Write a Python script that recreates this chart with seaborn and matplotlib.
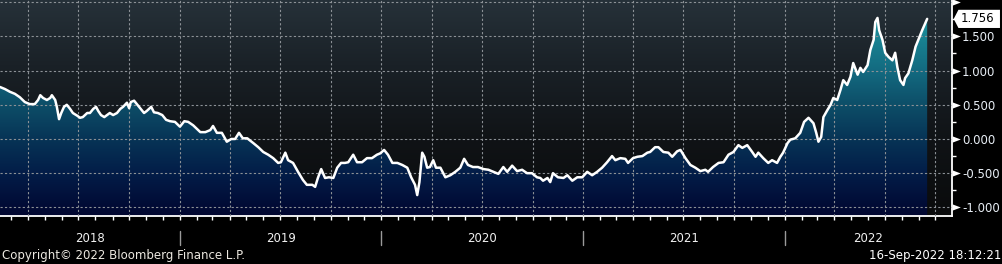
import numpy as np
import pandas as pd
import matplotlib
matplotlib.use("Agg")
import matplotlib.pyplot as plt
import matplotlib.dates as mdates
import matplotlib.ticker as mticker
from matplotlib.colors import LinearSegmentedColormap
from matplotlib.path import Path
from matplotlib.transforms import blended_transform_factory
import seaborn as sns

# ---------------- data ----------------
start_date = "2018-02-09"
day_offsets = [
    0, 9, 18, 27, 36, 45, 54, 63, 69, 73, 78, 85, 91, 94, 100, 103, 107, 111, 116, 121,
    127, 132, 140, 145, 150, 158, 163, 169, 174, 178, 183, 189, 194, 199, 205, 212, 218, 223, 230, 234,
    237, 243, 248, 254, 261, 266, 274, 279, 286, 294, 301, 308, 317, 326, 334, 341, 350, 363, 372, 381,
    386, 393, 402, 411, 419, 426, 433, 440, 448, 459, 468, 477, 486, 495, 504, 509, 517, 522, 531, 540,
    549, 556, 566, 571, 576, 582, 589, 596, 604, 611, 618, 625, 631, 640, 647, 656, 665, 674, 683, 689,
    696, 703, 711, 720, 729, 738, 745, 752, 756, 760, 765, 769, 774, 779, 785, 790, 798, 807, 816, 825,
    834, 841, 848, 857, 866, 876, 885, 894, 903, 912, 919, 928, 937, 946, 955, 964, 973, 979, 984, 992,
    997, 1002, 1011, 1021, 1028, 1037, 1046, 1055, 1064, 1073, 1082, 1091, 1100, 1109, 1115, 1124, 1133, 1138, 1147, 1155,
    1164, 1173, 1178, 1187, 1193, 1202, 1211, 1218, 1227, 1233, 1242, 1251, 1260, 1269, 1278, 1283, 1292, 1302, 1311, 1320,
    1329, 1338, 1345, 1354, 1363, 1369, 1374, 1383, 1392, 1399, 1408, 1414, 1419, 1427, 1432, 1441, 1450, 1457, 1465, 1474,
    1479, 1483, 1488, 1492, 1499, 1505, 1510, 1517, 1523, 1528, 1535, 1541, 1546, 1554, 1559, 1564, 1572, 1577, 1583, 1586,
    1590, 1593, 1599, 1604, 1610, 1617, 1622, 1626, 1631, 1637, 1640, 1646, 1653, 1659, 1664, 1671, 1677, 1680,
]
values = [
    0.76, 0.73, 0.69, 0.66, 0.61, 0.54, 0.51, 0.51, 0.57, 0.64, 0.60, 0.57, 0.60, 0.64, 0.57, 0.47, 0.29, 0.38, 0.47, 0.50,
    0.44, 0.38, 0.34, 0.31, 0.32, 0.38, 0.38, 0.44, 0.47, 0.41, 0.35, 0.32, 0.35, 0.38, 0.35, 0.38, 0.44, 0.47, 0.53, 0.45,
    0.54, 0.56, 0.51, 0.45, 0.38, 0.41, 0.47, 0.39, 0.38, 0.35, 0.28, 0.26, 0.25, 0.18, 0.26, 0.25, 0.20, 0.10, 0.10, 0.13,
    0.19, 0.09, 0.09, -0.04, 0.00, 0.00, 0.09, 0.01, 0.01, -0.06, -0.12, -0.19, -0.23, -0.28, -0.35, -0.34, -0.20, -0.31, -0.35, -0.48,
    -0.60, -0.67, -0.67, -0.70, -0.57, -0.44, -0.57, -0.56, -0.57, -0.42, -0.35, -0.35, -0.34, -0.23, -0.34, -0.34, -0.28, -0.28, -0.23, -0.21,
    -0.16, -0.23, -0.35, -0.35, -0.38, -0.42, -0.56, -0.67, -0.82, -0.63, -0.20, -0.26, -0.42, -0.41, -0.31, -0.42, -0.42, -0.56, -0.53, -0.48,
    -0.42, -0.29, -0.38, -0.41, -0.41, -0.44, -0.45, -0.48, -0.51, -0.41, -0.48, -0.39, -0.47, -0.45, -0.50, -0.50, -0.56, -0.57, -0.61, -0.57,
    -0.63, -0.50, -0.56, -0.57, -0.53, -0.61, -0.56, -0.56, -0.48, -0.53, -0.48, -0.42, -0.34, -0.25, -0.31, -0.28, -0.29, -0.35, -0.28, -0.26,
    -0.25, -0.20, -0.19, -0.12, -0.12, -0.19, -0.20, -0.26, -0.18, -0.16, -0.28, -0.38, -0.42, -0.47, -0.45, -0.48, -0.41, -0.35, -0.34, -0.23,
    -0.19, -0.09, -0.13, -0.09, -0.19, -0.26, -0.20, -0.28, -0.35, -0.31, -0.35, -0.26, -0.20, -0.06, -0.01, 0.01, 0.09, 0.25, 0.31, 0.23,
    0.09, -0.04, 0.03, 0.32, 0.42, 0.50, 0.60, 0.57, 0.72, 0.86, 0.79, 0.91, 1.11, 0.94, 1.04, 0.98, 1.08, 1.30, 1.45, 1.71,
    1.77, 1.59, 1.45, 1.26, 1.20, 1.15, 1.26, 1.05, 0.86, 0.79, 0.89, 0.96, 1.15, 1.35, 1.45, 1.59, 1.70, 1.756,
]
y_ticks = [-1.0, -0.5, 0.0, 0.5, 1.0, 1.5, 2.0]
y_tick_labels = ["-1.000", "-0.500", "0.000", "0.500", "1.000", "1.500", ""]
years = [2018, 2019, 2020, 2021, 2022]
last_label = "1.756"
copyright_text = "Copyright\u00a9 2022 Bloomberg Finance L.P."
stamp_text = "16-Sep-2022 18:12:21"

# ---------------- style ----------------
sns.set_theme(style="dark")
plt.rcParams["font.family"] = ["DejaVu Sans"]
FS = 8.5

W, H = 1003, 264
fig = plt.figure(figsize=(W / 100, H / 100), dpi=100, facecolor="black")
rect = [0, 48 / H, 952 / W, 216 / H]

# background gradient axes
bg = fig.add_axes(rect, zorder=0)
bg_cmap = LinearSegmentedColormap.from_list(
    "bg", [(0, "#0a0b0c"), (0.35, "#101316"), (0.7, "#1a2127"), (1.0, "#263139")])
bg.imshow(np.linspace(0, 1, 256).reshape(-1, 1), cmap=bg_cmap, aspect="auto",
          origin="lower", extent=[0, 1, 0, 1])
bg.set_xlim(0, 1)
bg.set_ylim(0, 1)
bg.axis("off")

ax = fig.add_axes(rect, zorder=1)
ax.set_facecolor("none")

df = pd.DataFrame({
    "date": pd.Timestamp(start_date) + pd.to_timedelta(day_offsets, unit="D"),
    "value": values,
})

ymin, ymax = -1.126, 2.032
x0 = pd.Timestamp(start_date)
x1 = pd.Timestamp("2022-10-31")

sns.lineplot(data=df, x="date", y="value", ax=ax, color="white", lw=1.8, zorder=4)

poly = ax.fill_between(df["date"], df["value"], ymin, color="none", lw=0)
fill_cmap = LinearSegmentedColormap.from_list("fill", [
    (0.0, "#010630"), (0.198, "#031d48"), (0.357, "#073456"), (0.515, "#0d4e68"),
    (0.673, "#136a80"), (0.832, "#198493"), (1.0, "#1f9aa0")])
im = ax.imshow(np.linspace(0, 1, 256).reshape(-1, 1), cmap=fill_cmap, aspect="auto",
               origin="lower",
               extent=[mdates.date2num(x0), mdates.date2num(x1), ymin, ymax], zorder=1)
im.set_clip_path(poly.get_paths()[0], transform=ax.transData)

ax.set_xlim(x0, x1)
ax.set_ylim(ymin, ymax)
ax.set_xlabel("")
ax.set_ylabel("")

for s in ["left", "top"]:
    ax.spines[s].set_visible(False)
for s in ["right", "bottom"]:
    ax.spines[s].set_visible(True)
    ax.spines[s].set_color("white")
    ax.spines[s].set_linewidth(1.3)

# x axis
ax.xaxis.set_major_locator(mdates.MonthLocator(bymonth=[1, 4, 7, 10]))
ax.xaxis.set_minor_locator(mdates.MonthLocator())
ax.xaxis.set_major_formatter(mticker.NullFormatter())
ax.xaxis.set_minor_formatter(mticker.NullFormatter())
ax.tick_params(axis="x", which="both", bottom=True, direction="out", length=3,
               width=1, color="white")

# y axis
ax.yaxis.tick_right()
ax.set_yticks(y_ticks)
ax.set_yticklabels(y_tick_labels)
ax.yaxis.set_minor_locator(mticker.MultipleLocator(0.25))
ax.tick_params(axis="y", which="major", right=True, left=False, length=6, width=0,
               pad=1.2, labelsize=FS, labelcolor="#e8eef5", color="white")
ax.tick_params(axis="y", which="minor", right=True, left=False, length=3, width=1,
               color="white")
tri = Path([(0, -0.38), (0, 0.38), (1, 0), (0, -0.38)],
           [Path.MOVETO, Path.LINETO, Path.LINETO, Path.CLOSEPOLY])
for t in ax.yaxis.get_major_ticks():
    t.tick2line.set_marker(tri)
    t.tick2line.set_markersize(12)
    t.tick2line.set_markerfacecolor("white")
    t.tick2line.set_markeredgecolor("white")

# grid above fill, below line
ax.set_axisbelow(False)
ax.grid(True, which="major", axis="both", color="#8c9196", ls=(0, (2, 2)), lw=0.8)
ax.grid(False, which="minor")

# year labels and separators
trans = blended_transform_factory(ax.transData, ax.transAxes)
bounds = [x0] + [pd.Timestamp(f"{y}-01-01") for y in years[1:]] + [x1]
for i, yr in enumerate(years):
    mid = bounds[i] + (bounds[i + 1] - bounds[i]) / 2
    ax.text(mid, -0.102, str(yr), transform=trans, ha="center", va="center",
            color="#f0f0f0", fontsize=FS)
for b in bounds[1:-1]:
    ax.plot([b, b], [-0.069, -0.134], transform=trans, color="#9a9a9a", lw=1,
            clip_on=False)

# last value tag
def tag_box(x0_, y0_, width, height, mutation_size):
    pad = 0.22 * mutation_size
    xa, ya = x0_ - pad, y0_ - pad
    xb, yb = x0_ + width + 0.45 * mutation_size, y0_ + height + pad
    ym = (ya + yb) / 2
    tip = xa - 0.4 * mutation_size
    return Path([(tip, ym), (xa, ya), (xb, ya), (xb, yb), (xa, yb), (tip, ym)],
                [Path.MOVETO] + [Path.LINETO] * 4 + [Path.CLOSEPOLY])

ytrans = blended_transform_factory(ax.transAxes, ax.transData)
ax.annotate(last_label, xy=(1.0, values[-1]), xycoords=ytrans,
            xytext=(6.5, 0), textcoords="offset points", ha="left", va="center",
            fontsize=FS, color="black",
            bbox=dict(boxstyle=tag_box, fc="white", ec="none"),
            annotation_clip=False, zorder=6)

# footer
fig.text(2 / W, 1 - 256 / H, copyright_text, ha="left", va="center",
         color="#ece8e0", fontsize=FS)
fig.text(1001 / W, 1 - 256 / H, stamp_text, ha="right", va="center",
         color="white", fontsize=FS)

fig.savefig("out.png", dpi=100, facecolor="black")
